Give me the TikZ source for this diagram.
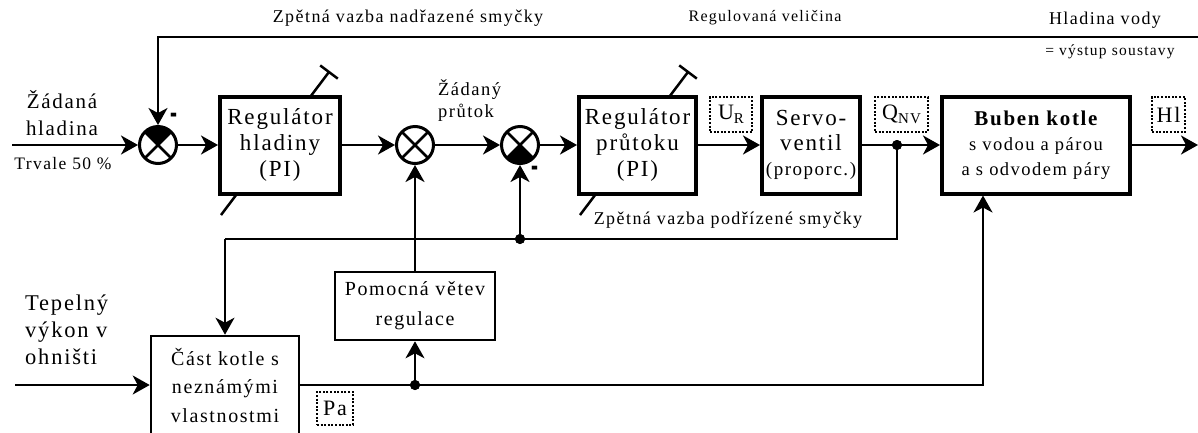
\documentclass[tikz,border=0pt]{standalone}
\usepackage{fontspec}
\setmainfont[LetterSpace=8.0]{Liberation Serif}
\usetikzlibrary{arrows.meta}
\pgfdeclarelayer{background}
\pgfsetlayers{background,main}
\newcommand\fsz[2]{\fontsize{#1pt}{#2pt}\selectfont}
\newcommand\lsub[1]{\raisebox{-0.35ex}{\fsz{15}{15}#1}}
\newcommand\minussign{\scalebox{0.8}[1.7]{\fsz{26}{26}\bfseries -}}

\begin{document}
\begin{tikzpicture}[x=1pt,y=-1pt,
  conn/.style={line width=2pt, -{Stealth[length=17pt,width=19pt,inset=5pt]}},
  wire/.style={line width=2pt},
  thickbox/.style={draw, line width=4pt, fill=white, inner sep=0pt, align=center},
  thinbox/.style={draw, line width=2.6pt, fill=white, inner sep=0pt, align=center},
  sumnode/.style={circle, draw, line width=3pt, minimum size=37pt, inner sep=0pt, outer sep=1.5pt, fill=white},
  dot/.style={circle, fill, minimum size=10pt, inner sep=0pt},
  tagbox/.style={draw, line width=2pt, dash pattern=on 2pt off 1.6pt, inner sep=0pt, minimum height=35pt, font=\fsz{22}{22}},
  lbl/.style={inner sep=0pt, align=center},
  knob/.style={line width=2.5pt},
  sign/.style={inner sep=0pt}
]
\useasboundingbox (0,0) rectangle (1198,432);
\clip (0,0) rectangle (1198,432);

% --- blocks ---
\node[thickbox, minimum width=120pt, minimum height=97pt, font=\fsz{23}{26}] (b1) at (280,145) {Regulátor\\hladiny\\(PI)};
\node[thickbox, minimum width=117pt, minimum height=97pt, font=\fsz{23}{26}] (b2) at (637.5,145) {Regulátor\\průtoku\\(PI)};
\node[thickbox, minimum width=98pt, minimum height=97pt, font=\fsz{23}{25}] (sv) at (811,145) {Servo-\\ventil\\{\fsz{19}{25}(proporc.)}};
\node[thickbox, minimum width=188pt, minimum height=97pt, font=\fsz{18.5}{25}] (bub) at (1036,145) {{\fsz{21}{25}\bfseries Buben kotle}\\s vodou a párou\\a s odvodem páry};
\node[thinbox, minimum width=160pt, minimum height=68pt, font=\fsz{20}{30}] (pom) at (415,306) {Pomocná větev\\regulace};
\node[thinbox, minimum width=148pt, minimum height=98pt, font=\fsz{20}{28.5}] (ck) at (225,385) {Část kotle s\\neznámými\\vlastnostmi};

% --- adjustment symbols of the controllers ---
\begin{pgfonlayer}{background}
  \foreach \b in {b1,b2}{
    \draw[knob] (\b.south west) ++(3,19.5) -- ++(108,-143) ++(-8.8,-6.6) -- ++(17.6,13.2);
  }
\end{pgfonlayer}

% --- summing junctions ---
\node[sumnode] (s1) at (158,145) {};
\node[sumnode] (s2) at (415,145) {};
\node[sumnode] (s3) at (520,145) {};
\fill (s1.center) -- ++(135:18pt) arc[start angle=135, end angle=45, radius=18pt] -- cycle;
\fill (s3.center) -- ++(225:18pt) arc[start angle=225, end angle=315, radius=18pt] -- cycle;
\foreach \s in {s1,s2,s3}{
  \draw[line width=2.5pt] ([shift={(135:18pt)}]\s.center) -- ([shift={(-45:18pt)}]\s.center);
  \draw[line width=2.5pt] ([shift={(45:18pt)}]\s.center) -- ([shift={(225:18pt)}]\s.center);
}
\node[sign] (m1) at (174,119.5) {\minussign};
\node[sign] (m3) at (535,172) {\minussign};

% --- branch points and free ends ---
\node[dot] (jq) at (897,145) {};
\node[dot] (j3) at (520,239) {};
\node[dot] (jp) at (415,385) {};
\coordinate (zin) at (12,145);
\coordinate (tin) at (15,385);
\coordinate (out) at (1198,145);
\coordinate (fbR) at (1198,37);
\coordinate (fbL) at (225,239);
\coordinate (jqd) at (897,239);

% --- signal lines ---
\draw[conn] (zin) -- (s1);
\draw[conn] (s1) -- (b1);
\draw[conn] (b1) -- (s2);
\draw[conn] (s2) -- (s3);
\draw[conn] (s3) -- (b2);
\draw[conn] (b2) -- (sv);
\draw[conn] (sv) -- (bub);
\draw[conn] (bub) -- (out);
\draw[conn] (fbR) -| (s1);
\draw[wire] (jq) -- (jqd) -- (fbL);
\draw[conn] (fbL) -- (ck);
\draw[conn] (j3) -- (s3);
\draw[conn] (pom) -- (s2);
\draw[conn] (tin) -- (ck);
\draw[conn] (ck) -| ([xshift=-53pt]bub.south);
\draw[conn] (jp) -- (pom);
\node[dot] at (jq) {};
\node[dot] at (j3) {};
\node[dot] at (jp) {};

% --- signal tags ---
\node[tagbox, minimum width=42pt] (tUR) at (731,114.5) {U\lsub{R}};
\node[tagbox, minimum width=53pt] (tQ) at (901.5,114.5) {Q\lsub{NV}};
\node[tagbox, minimum width=33pt] (tH) at (1168.5,114.5) {Hl};
\node[tagbox, minimum width=36pt, minimum height=33pt] (tP) at (335,408.5) {Pa};

% --- texts ---
\node[lbl, font=\fsz{18}{20}] (t1) at (408,18) {Zpětná vazba nadřazené smyčky};
\node[lbl, font=\fsz{16}{18}] (t2) at (765,18) {Regulovaná veličina};
\node[lbl, font=\fsz{18}{20}] (t3) at (1105,20) {Hladina vody};
\node[lbl, font=\fsz{15.5}{18}] (t4) at (1110,52) {= výstup soustavy};
\node[lbl, font=\fsz{21}{27}] (t5) at (62,113) {Žádaná\\hladina};
\node[lbl, font=\fsz{17.5}{20}] (t6) at (63,164) {Trvale 50 \%};
\node[lbl, font=\fsz{18.5}{22}, anchor=west, align=left] (t7) at (438,101) {Žádaný\\průtok};
\node[lbl, font=\fsz{18}{20}] (t8) at (728,220) {Zpětná vazba podřízené smyčky};
\node[lbl, font=\fsz{22.5}{27}, anchor=west, align=left] (t9) at (25,330) {Tepelný\\výkon v\\ohništi};
\end{tikzpicture}
\end{document}
